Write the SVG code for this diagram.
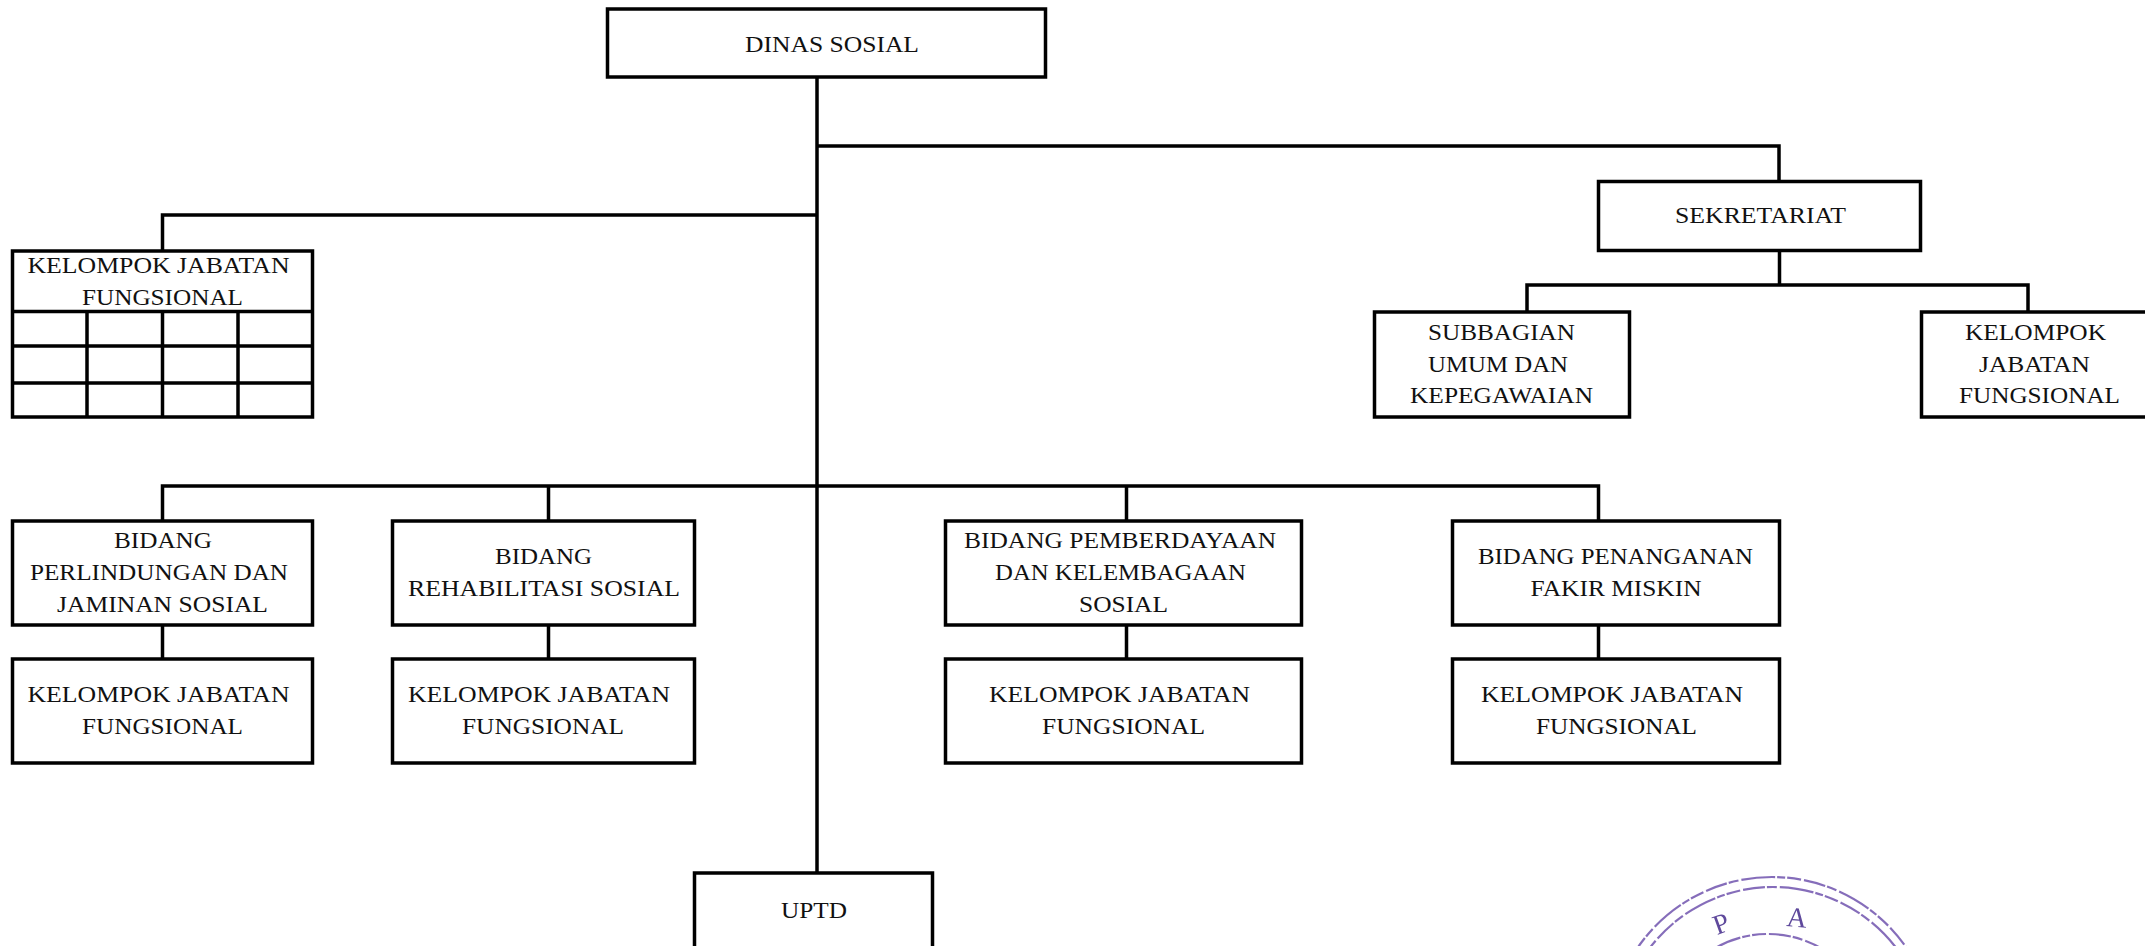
<svg xmlns="http://www.w3.org/2000/svg" width="2145" height="946" viewBox="0 0 2145 946">
<defs><filter id="soft" x="-5%" y="-5%" width="110%" height="110%"><feGaussianBlur stdDeviation="0.6"/></filter></defs>
<style>
.b{fill:#fff;stroke:#000;stroke-width:3.500}
.c{fill:none;stroke:#000;stroke-width:3.500}
text{font-family:"Liberation Serif","Times New Roman",serif;font-size:24px;fill:#111}
.s{fill:none;stroke:#53309c;stroke-width:2.200;stroke-dasharray:22 2 10 3 34 2 8 2 14 3;opacity:.7}
.l{fill:#5f4a9c;font-size:28px}
</style>
<rect width="2145" height="946" fill="#fff"/>
<g id="connectors">
<path class="c" d="M817 77V873M817 146H1779V181M817 215H162.500V251M162.500 521V486H1598.500V521M548.500 486V521M1126.500 486V521M162.500 624V659M548.500 624V659M1126.500 624V659M1598.500 624V659M1779.500 250V285M1527 312V285H2028V312"/>
</g>
<g id="dinas"><rect class="b" x="607.500" y="9" width="438" height="68"/><text x="745" y="52" textLength="174" lengthAdjust="spacingAndGlyphs">DINAS SOSIAL</text></g>
<g id="sekretariat"><rect class="b" x="1598.500" y="181.500" width="322" height="69"/><text x="1675" y="223" textLength="171" lengthAdjust="spacingAndGlyphs">SEKRETARIAT</text></g>
<g id="subbagian"><rect class="b" x="1374.500" y="312" width="255" height="105"/><text x="1428" y="340" textLength="147" lengthAdjust="spacingAndGlyphs">SUBBAGIAN</text><text x="1428" y="372" textLength="140" lengthAdjust="spacingAndGlyphs">UMUM DAN</text><text x="1410" y="403" textLength="183" lengthAdjust="spacingAndGlyphs">KEPEGAWAIAN</text></g>
<g id="kjf-sekretariat"><rect class="b" x="1921.500" y="312" width="230" height="105"/><text x="1965" y="340" textLength="141" lengthAdjust="spacingAndGlyphs">KELOMPOK</text><text x="1979" y="372" textLength="111" lengthAdjust="spacingAndGlyphs">JABATAN</text><text x="1959" y="403" textLength="161" lengthAdjust="spacingAndGlyphs">FUNGSIONAL</text></g>
<g id="kjf-dinas"><rect class="b" x="12.500" y="251" width="300" height="166"/><path class="c" d="M12.500 311.500H312.500M12.500 346H312.500M12.500 383H312.500M87 311.500V417M162.500 311.500V417M238 311.500V417"/><text x="27.500" y="273" textLength="262" lengthAdjust="spacingAndGlyphs">KELOMPOK JABATAN</text><text x="82" y="305" textLength="161" lengthAdjust="spacingAndGlyphs">FUNGSIONAL</text></g>
<g id="bidang-1"><rect class="b" x="12.500" y="521" width="300" height="104"/><text x="114" y="548" textLength="98" lengthAdjust="spacingAndGlyphs">BIDANG</text><text x="30" y="580" textLength="258" lengthAdjust="spacingAndGlyphs">PERLINDUNGAN DAN</text><text x="57" y="612" textLength="211" lengthAdjust="spacingAndGlyphs">JAMINAN SOSIAL</text></g>
<g id="kjf-1"><rect class="b" x="12.500" y="659" width="300" height="104"/><text x="27.500" y="702" textLength="262" lengthAdjust="spacingAndGlyphs">KELOMPOK JABATAN</text><text x="82" y="734" textLength="161" lengthAdjust="spacingAndGlyphs">FUNGSIONAL</text></g>
<g id="bidang-2"><rect class="b" x="392.500" y="521" width="302" height="104"/><text x="495" y="564" textLength="97" lengthAdjust="spacingAndGlyphs">BIDANG</text><text x="408" y="596" textLength="272" lengthAdjust="spacingAndGlyphs">REHABILITASI SOSIAL</text></g>
<g id="kjf-2"><rect class="b" x="392.500" y="659" width="302" height="104"/><text x="408" y="702" textLength="262" lengthAdjust="spacingAndGlyphs">KELOMPOK JABATAN</text><text x="462" y="734" textLength="162" lengthAdjust="spacingAndGlyphs">FUNGSIONAL</text></g>
<g id="bidang-3"><rect class="b" x="945.500" y="521" width="356" height="104"/><text x="964" y="548" textLength="312" lengthAdjust="spacingAndGlyphs">BIDANG PEMBERDAYAAN</text><text x="995" y="580" textLength="251" lengthAdjust="spacingAndGlyphs">DAN KELEMBAGAAN</text><text x="1079" y="612" textLength="89" lengthAdjust="spacingAndGlyphs">SOSIAL</text></g>
<g id="kjf-3"><rect class="b" x="945.500" y="659" width="356" height="104"/><text x="989" y="702" textLength="261" lengthAdjust="spacingAndGlyphs">KELOMPOK JABATAN</text><text x="1042" y="734" textLength="163" lengthAdjust="spacingAndGlyphs">FUNGSIONAL</text></g>
<g id="bidang-4"><rect class="b" x="1452.500" y="521" width="327" height="104"/><text x="1478" y="564" textLength="275" lengthAdjust="spacingAndGlyphs">BIDANG PENANGANAN</text><text x="1530.500" y="596" textLength="171" lengthAdjust="spacingAndGlyphs">FAKIR MISKIN</text></g>
<g id="kjf-4"><rect class="b" x="1452.500" y="659" width="327" height="104"/><text x="1481" y="702" textLength="262" lengthAdjust="spacingAndGlyphs">KELOMPOK JABATAN</text><text x="1536" y="734" textLength="161" lengthAdjust="spacingAndGlyphs">FUNGSIONAL</text></g>
<g id="uptd"><rect class="b" x="694.500" y="873" width="238" height="100"/><text x="781" y="918" textLength="66" lengthAdjust="spacingAndGlyphs">UPTD</text></g>
<g id="stamp" filter="url(#soft)">
<circle class="s" cx="1772" cy="1040" r="163"/>
<circle class="s" cx="1773" cy="1042" r="155"/>
<circle class="s" cx="1768" cy="1040" r="106"/>
<text class="l" transform="translate(1717 935) rotate(-20)">P</text>
<text class="l" transform="translate(1786 926) rotate(5)">A</text>
</g>
</svg>
